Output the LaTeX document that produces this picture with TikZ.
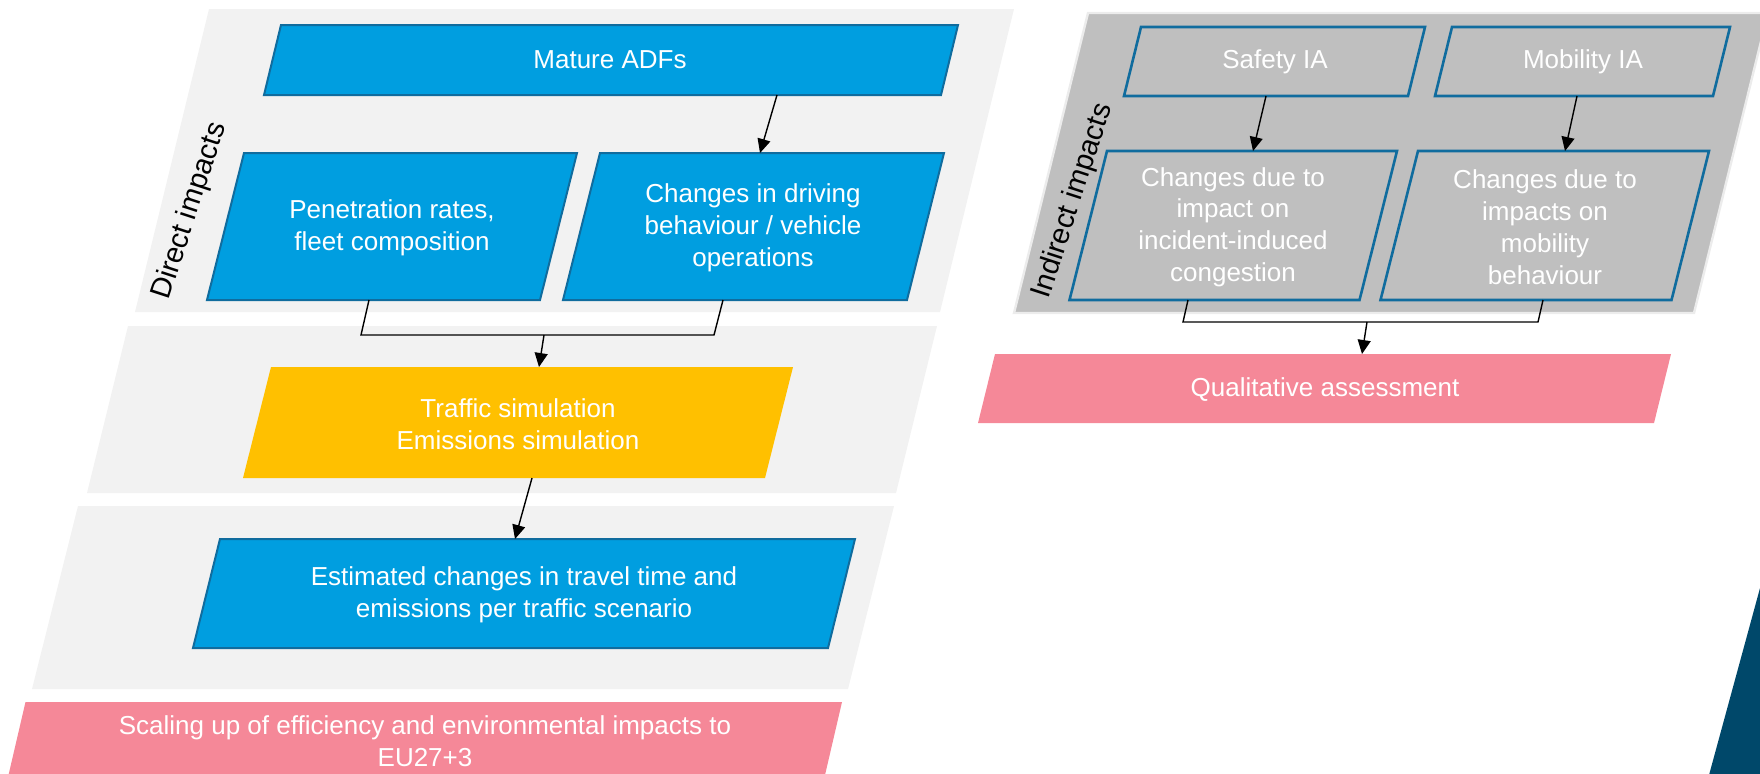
\documentclass[tikz,border=0pt]{standalone}
\usepackage{fontspec}
\setmainfont{Liberation Sans}
\usetikzlibrary{arrows.meta}

\definecolor{panelgray}{RGB}{242,242,242}
\definecolor{paneldark}{RGB}{191,191,191}
\definecolor{paneledge}{RGB}{236,236,236}
\definecolor{boxblue}{RGB}{0,158,224}
\definecolor{edgeblue}{RGB}{16,108,158}
\definecolor{simyellow}{RGB}{255,192,0}
\definecolor{resultpink}{RGB}{245,136,152}
\definecolor{navy}{RGB}{0,72,106}

% parallelogram: #1 style, #2 top y, #3 bottom y, #4 top-left x, #5 top-right x, #6 slant
\newcommand\pgram[6]{%
  \path[#1] (#4,#2) -- (#5,#2) -- ({#5-#6},#3) -- ({#4-#6},#3) -- cycle;}

\begin{document}
\begin{tikzpicture}[x=0.5pt,y=-0.5pt,
  lightpanel/.style={fill=panelgray},
  darkpanel/.style={fill=paneldark,draw=paneledge,line width=1.2pt},
  bluebox/.style={fill=boxblue,draw=edgeblue,line width=1pt},
  graybox/.style={fill=paneldark,draw=edgeblue,line width=1.3pt},
  simbox/.style={fill=simyellow},
  pinkbox/.style={fill=resultpink},
  txt/.style={text=white,align=center,inner sep=0pt,
    font=\fontsize{13pt}{15.9pt}\selectfont},
  sidelabel/.style={text=black,inner sep=0pt,rotate=72,
    font=\fontsize{14.5pt}{17pt}\selectfont},
  link/.style={draw=black,line width=0.7pt},
  arr/.style={link,-{Triangle[length=7pt,width=6.5pt]}}]

\clip (0,0) rectangle (1760,773);
\useasboundingbox (0,0) rectangle (1760,773);

% ---------- direct impacts ----------
\pgram{lightpanel}{9}{312}{209}{1014}{74}
\pgram{lightpanel}{326}{493}{128}{937}{41}
\pgram{lightpanel}{506}{689}{78}{894}{46}
\pgram{pinkbox}{702}{775}{25.5}{842}{17}

\pgram{bluebox}{25}{95}{281}{958}{17}
\pgram{bluebox}{153}{300}{244}{577}{37}
\pgram{bluebox}{153}{300}{600}{944}{37}
\pgram{simbox}{367}{478}{271}{793}{28}
\pgram{bluebox}{539}{648}{220}{855}{27}

\node[sidelabel] (direct) at (190,211) {Direct impacts};
\node[txt] (mature) at (610,60) {Mature ADFs};
\node[txt] (penetration) at (392,228) {Penetration rates,\\fleet composition};
\node[txt] (driving) at (753,228) {Changes in driving\\behaviour / vehicle\\operations};
\node[txt] (simulation) at (518,424) {Traffic simulation\\Emissions simulation};
\node[txt] (estimated) at (524,595) {Estimated changes in travel time and\\emissions per traffic scenario};
\node[txt] (scaling) at (425,741) {Scaling up of efficiency and environmental impacts to\\EU27+3};

\coordinate (matureB) at (777,95);
\coordinate (drivingT) at (760,153);
\coordinate (penB) at (369,300);
\coordinate (drivingB) at (723,300);
\coordinate (joinL) at (361,335);
\coordinate (joinR) at (714,335);
\coordinate (joinM) at (544,335);
\coordinate (simT) at (539,367);
\coordinate (simB) at (532,478);
\coordinate (estT) at (515,539);

\draw[arr] (matureB) -- (drivingT);
\draw[link] (penB) -- (joinL) -- (joinR) -- (drivingB);
\draw[arr] (joinM) -- (simT);
\draw[arr] (simB) -- (estT);

% ---------- indirect impacts ----------
\pgram{darkpanel}{13}{313}{1088}{1768}{74}
\pgram{graybox}{27}{96}{1141}{1425}{17}
\pgram{graybox}{27}{96}{1452}{1730}{17}
\pgram{graybox}{151}{300}{1107}{1397}{37.5}
\pgram{graybox}{151}{300}{1418}{1709}{37.5}
\pgram{pinkbox}{354}{423}{995}{1671}{17}

\node[sidelabel] (indirect) at (1073,201) {Indirect impacts};
\node[txt] (safety) at (1275,62) {Safety IA};
\node[txt] (mobility) at (1583,62) {Mobility IA};
\node[txt] (incident) at (1233,227) {Changes due to\\impact on\\incident-induced\\congestion};
\node[txt] (behaviour) at (1545,227) {Changes due to\\impacts on\\mobility\\behaviour};
\node[txt] (qualitative) at (1325,390) {Qualitative assessment};

\coordinate (safetyB) at (1266,96);
\coordinate (incidentT) at (1253,151);
\coordinate (mobilityB) at (1577,96);
\coordinate (behaviourT) at (1565,151);
\coordinate (incidentB) at (1188,300);
\coordinate (behaviourB) at (1543,300);
\coordinate (ijoinL) at (1183,322);
\coordinate (ijoinR) at (1538,322);
\coordinate (ijoinM) at (1367,322);
\coordinate (qualT) at (1362,354);

\draw[arr] (safetyB) -- (incidentT);
\draw[arr] (mobilityB) -- (behaviourT);
\draw[link] (incidentB) -- (ijoinL) -- (ijoinR) -- (behaviourB);
\draw[arr] (ijoinM) -- (qualT);

% corner accent
\fill[navy] (1760,588) -- (1760,775) -- (1709,775) -- cycle;

\end{tikzpicture}
\end{document}
